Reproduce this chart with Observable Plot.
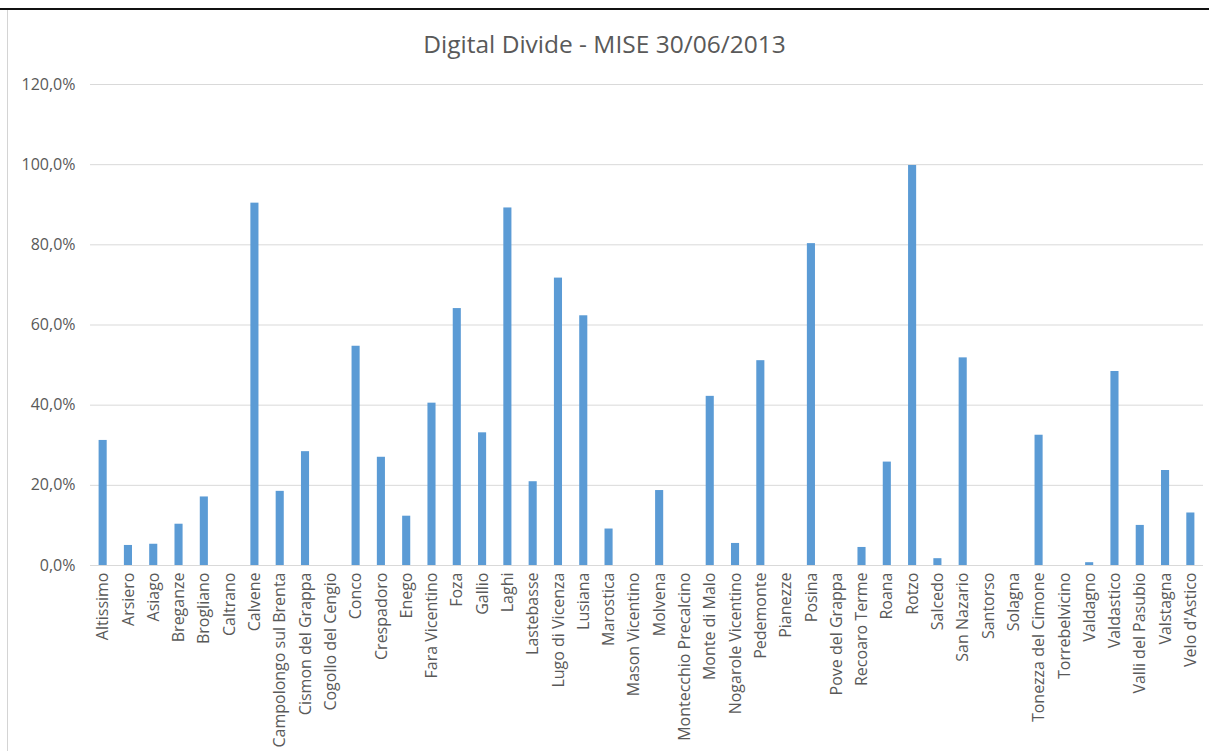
<!DOCTYPE html>
<html>
<head>
<meta charset="utf-8">
<script src="https://cdn.jsdelivr.net/npm/d3@7"></script>
<script src="https://cdn.jsdelivr.net/npm/@observablehq/plot@0.6"></script>
<style>
  html, body { margin: 0; padding: 0; background: #fff; }
  #wrap { position: relative; width: 1209px; height: 751px; overflow: hidden; background: #fff; }
  #topline { position: absolute; left: 0; top: 8px; width: 1209px; height: 2px; background: #111; }
  #leftline { position: absolute; left: 7px; top: 10px; width: 1px; height: 741px; background: #d4d4d4; }
  #title { margin: 0; height: 60px; padding-top: 0; box-sizing: border-box;
           font-family: "Open Sans", sans-serif; font-weight: 400; font-size: 24.5px; color: #595959;
           text-align: center; line-height: 88px; white-space: nowrap; }
  #chart svg { display: block; }
</style>
</head>
<body>
<div id="wrap">
  <div id="title">Digital Divide - MISE 30/06/2013</div>
  <div id="chart"></div>
  <div id="topline"></div>
  <div id="leftline"></div>
</div>
<script>
const comuni = [
  "Altissimo", "Arsiero", "Asiago", "Breganze", "Brogliano", "Caltrano", "Calvene",
  "Campolongo sul Brenta", "Cismon del Grappa", "Cogollo del Cengio", "Conco", "Crespadoro",
  "Enego", "Fara Vicentino", "Foza", "Gallio", "Laghi", "Lastebasse", "Lugo di Vicenza",
  "Lusiana", "Marostica", "Mason Vicentino", "Molvena", "Montecchio Precalcino", "Monte di Malo",
  "Nogarole Vicentino", "Pedemonte", "Pianezze", "Posina", "Pove del Grappa", "Recoaro Terme",
  "Roana", "Rotzo", "Salcedo", "San Nazario", "Santorso", "Solagna", "Tonezza del Cimone",
  "Torrebelvicino", "Valdagno", "Valdastico", "Valli del Pasubio", "Valstagna", "Velo d'Astico"
];
// Digital divide share, percent
const divario = [
  31.2, 5.0, 5.3, 10.3, 17.1, 0, 90.4,
  18.5, 28.4, 0, 54.7, 27.0,
  12.3, 40.5, 64.1, 33.1, 89.2, 20.9, 71.7,
  62.3, 9.1, 0, 18.7, 0, 42.2,
  5.5, 51.1, 0, 80.3, 0, 4.5,
  25.8, 99.8, 1.7, 51.8, 0, 0, 32.5,
  0, 0.7, 48.4, 10.0, 23.7, 13.1
];
const yTicks = [0, 20, 40, 60, 80, 100, 120];

const data = comuni.map((c, i) => ({comune: c, valore: divario[i]}));
const fmt = d => d.toFixed(1).replace(".", ",") + "%";

const chart = Plot.plot({
  width: 1209,
  height: 691,
  marginTop: 24,
  marginBottom: 186,
  marginLeft: 90,
  marginRight: 6,
  style: {fontFamily: "Open Sans, sans-serif", fontSize: "16px", color: "#595959", background: "#fff"},
  x: {domain: comuni, paddingInner: 0.68, paddingOuter: 0.34, round: false, label: null},
  y: {domain: [0, 120], label: null},
  marks: [
    Plot.ruleY(yTicks, {stroke: "#d9d9d9", strokeWidth: 1}),
    Plot.barY(data, {x: "comune", y: "valore", fill: "#5b9bd5"}),
    Plot.axisY({ticks: yTicks, tickFormat: fmt, tickSize: 0, tickPadding: 15, label: null, fontSize: 16}),
    Plot.axisX({tickRotate: -90, tickSize: 0, tickPadding: 7, label: null, fontSize: 16})
  ]
});
document.getElementById("chart").appendChild(chart);
</script>
</body>
</html>
